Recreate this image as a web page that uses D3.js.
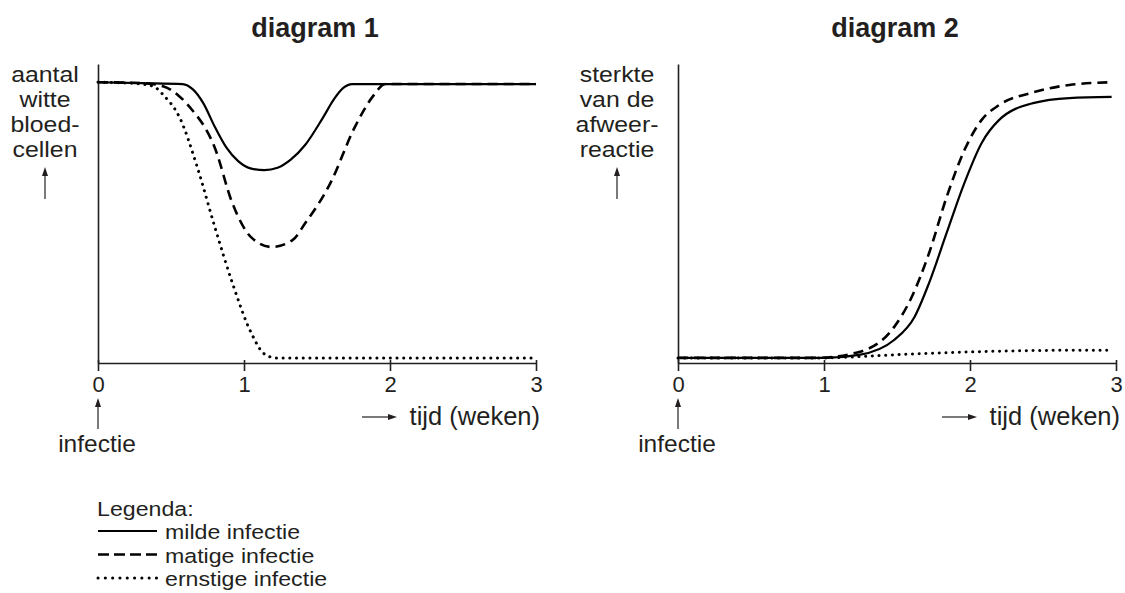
<!DOCTYPE html>
<html><head><meta charset="utf-8">
<script src="https://cdn.jsdelivr.net/npm/d3@7"></script>
<style>
body{margin:0;background:#fff;}
text{font-family:"Liberation Sans",Arial,sans-serif;fill:#231f20;}
</style></head>
<body>
<svg id="c" width="1125" height="593"></svg>
<script>
// ---- data (weeks, relative value 0-100) ----
const xTicks = [0, 1, 2, 3];
const seriesNames = ["milde infectie", "matige infectie", "ernstige infectie"];

const d1Mild = [[0,93.9],[0.3,93.6],[0.58,93.3],[0.65,91.5],[0.72,87],[0.8,79],[0.88,72],[0.96,67.5],[1.05,65],[1.14,64.5],[1.23,65.3],[1.32,68],[1.42,73],[1.54,82],[1.62,88.5],[1.68,92],[1.74,93.3],[2.2,93.3],[3,93.3]];
const d1Moderate = [[0,93.9],[0.3,93.6],[0.45,92.5],[0.55,89.5],[0.63,85.5],[0.8,72],[0.92,53.5],[1.05,42],[1.19,38.8],[1.33,41],[1.42,46.8],[1.59,60],[1.76,79],[1.88,89],[1.97,93.3],[2.5,93.3],[3,93.3]];
const d1Severe = [[0,93.9],[0.25,93.5],[0.38,92.5],[0.45,89.5],[0.56,82],[0.68,65.5],[0.8,45.5],[0.92,26.8],[1.05,10],[1.14,3],[1.22,1.7],[2,1.7],[3,1.7]];

const d2Mild = [[0,1.7],[1.0,1.7],[1.24,2.7],[1.48,7.7],[1.62,15.4],[1.72,26.8],[1.84,43.5],[1.96,60],[2.08,73.6],[2.2,81.3],[2.44,87],[2.68,88.6],[2.97,89]];
const d2Moderate = [[0,1.7],[0.95,1.7],[1.24,3.7],[1.48,12],[1.6,22],[1.72,36.8],[1.84,55.5],[1.96,71],[2.08,81.3],[2.2,86.3],[2.44,90.6],[2.68,93],[2.97,93.9]];
const d2Severe = [[0,1.7],[1.0,1.7],[1.3,2.3],[1.6,3.0],[2.0,3.7],[2.5,4.2],[2.95,4.3]];

const svg = d3.select("#c");
const styles = [
  {dash:null, w:2.2, cap:"butt"},
  {dash:"10,6", w:2.6, cap:"butt"},
  {dash:"0.1,6.6", w:3, cap:"round"}
];

function panel(x0, x1, title, yLabel, labelX, series){
  const x = d3.scaleLinear().domain([0,3]).range([x0,x1]);
  const y = d3.scaleLinear().domain([0,100]).range([363,64]);
  const g = svg.append("g");
  g.append("text").attr("x",(x0+x1)/2-2).attr("y",37).attr("text-anchor","middle")
    .style("font-size","27px").style("font-weight","bold").text(title);
  // y label (stretched horizontally to match the tall reference lettering)
  const lx = labelX;
  yLabel.forEach((t,i)=>{
    g.append("text").attr("transform",`translate(${lx},${82+i*25}) scale(1.13,1)`)
      .attr("text-anchor","middle").style("font-size","22px").text(t);
  });
  g.append("line").attr("x1",lx).attr("x2",lx).attr("y1",199).attr("y2",175)
    .attr("stroke","#231f20").attr("stroke-width",1.2);
  g.append("path").attr("d",`M${lx-3},176 L${lx},167 L${lx+3},176 Z`).attr("fill","#231f20");
  // axes
  const ax = g.append("g").attr("transform","translate(0,363)")
    .call(d3.axisBottom(x).tickValues(xTicks).tickSizeInner(8).tickSizeOuter(0).tickPadding(5).tickFormat(d3.format("d")));
  ax.select(".domain").attr("stroke","#231f20").attr("stroke-width",1.6);
  ax.selectAll(".tick line").attr("stroke","#231f20").attr("stroke-width",1.6).attr("y1",-3);
  ax.selectAll(".tick text").style("font-size","22px").attr("fill","#231f20");
  const ay = g.append("g").attr("transform",`translate(${x0},0)`)
    .call(d3.axisLeft(y).tickValues([]).tickSizeOuter(0));
  ay.select(".domain").attr("stroke","#231f20").attr("stroke-width",1.6);
  // x label
  g.append("line").attr("x1",x1-174).attr("x2",x1-146).attr("y1",417).attr("y2",417)
    .attr("stroke","#231f20").attr("stroke-width",1.2);
  g.append("path").attr("d",`M${x1-148},414 L${x1-139},417 L${x1-148},420 Z`).attr("fill","#231f20");
  g.append("text").attr("x",x1+4).attr("y",425).attr("text-anchor","end")
    .style("font-size","25.5px").text("tijd (weken)");
  // infectie
  g.append("line").attr("x1",x0).attr("x2",x0).attr("y1",429).attr("y2",406)
    .attr("stroke","#231f20").attr("stroke-width",1.2);
  g.append("path").attr("d",`M${x0-3},407 L${x0},398 L${x0+3},407 Z`).attr("fill","#231f20");
  g.append("text").attr("x",x0-1).attr("y",452).attr("text-anchor","middle")
    .style("font-size","24.5px").text("infectie");
  // curves
  const line = d3.line().x(d=>x(d[0])).y(d=>y(d[1])).curve(d3.curveMonotoneX);
  series.forEach((s,i)=>{
    const p = g.append("path").datum(s).attr("d",line).attr("fill","none")
      .attr("stroke","#000").attr("stroke-width",styles[i].w).attr("stroke-linecap",styles[i].cap);
    if(styles[i].dash) p.attr("stroke-dasharray",styles[i].dash);
  });
}

panel(98, 536, "diagram 1", ["aantal","witte","bloed-","cellen"], 45, [d1Mild, d1Moderate, d1Severe]);
panel(678, 1116, "diagram 2", ["sterkte","van de","afweer-","reactie"], 617, [d2Mild, d2Moderate, d2Severe]);

// legend
const lg = svg.append("g");
lg.append("text").attr("transform","translate(97,516) scale(1.13,1)").style("font-size","20.5px").text("Legenda:");
seriesNames.forEach((n,i)=>{
  const yy = 531 + i*23.5;
  const p = lg.append("line").attr("x1",98).attr("x2",157).attr("y1",yy).attr("y2",yy)
    .attr("stroke","#000").attr("stroke-width",styles[i].w).attr("stroke-linecap",styles[i].cap);
  if(i===1) p.attr("stroke-dasharray","11,5");
  if(i===2) p.attr("stroke-dasharray","0.1,7.2");
  lg.append("text").attr("transform",`translate(165,${yy+8}) scale(1.13,1)`).style("font-size","20.5px").text(n);
});
</script>
</body></html>
